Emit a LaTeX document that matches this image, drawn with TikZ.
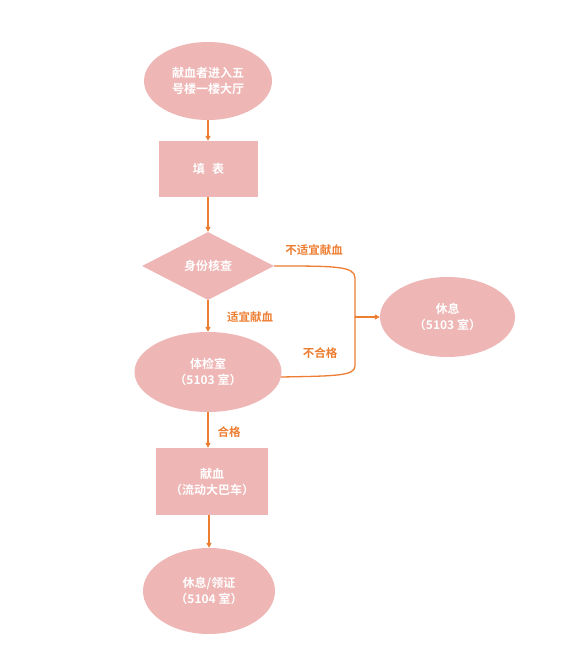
\documentclass[tikz,border=0pt]{standalone}
\usepackage{fontspec}
\newfontfamily\cjk{Noto Sans CJK SC Bold}
\usetikzlibrary{shapes.geometric,arrows.meta}
\definecolor{pinkfill}{HTML}{EEB6B5}
\definecolor{orng}{HTML}{ED7D31}
\tikzset{
  base/.style={fill=pinkfill,draw=none,text=white,font=\cjk\fontsize{12}{16}\selectfont,align=center,inner sep=0pt},
  oval/.style={base,ellipse},
  box/.style={base,rectangle},
  dia/.style={base,diamond,aspect=1.94},
  conn/.style={draw=orng,line width=1.3pt},
  arr/.style={conn,-{Triangle[length=5pt,width=5pt]}},
  lab/.style={text=orng,font=\cjk\fontsize{11.5}{13}\selectfont,inner sep=0pt}
}
\begin{document}
\begin{tikzpicture}[x=1pt,y=-1pt]
\useasboundingbox (0,0) rectangle (576,661);
\node[oval,minimum width=128pt,minimum height=78pt] (a) at (208,81) {献血者进入五\\号楼一楼大厅};
\node[box,minimum width=99pt,minimum height=56pt] (b) at (208.5,169) {填\hspace{0.6em}表};
\node[dia,minimum width=132pt,minimum height=68pt] (c) at (208,266) {身份核查};
\node[oval,minimum width=147pt,minimum height=80pt] (d) at (208,372) {体检室\\（5103 室）};
\node[box,minimum width=112pt,minimum height=67pt] (e) at (212,481.5) {献血\\（流动大巴车）};
\node[oval,minimum width=132pt,minimum height=86pt] (f) at (209,591) {休息/领证\\（5104 室）};
\node[oval,minimum width=135pt,minimum height=80pt] (r) at (447.5,317) {休息\\（5103 室）};
\coordinate (j) at (355,317);
\coordinate (dl) at (281,377);
\draw[arr] (a.south) -- (a.south |- b.north);
\draw[arr] (b.south -| c.north) -- (c.north);
\draw[arr] (c.south) -- (c.south |- d.north);
\draw[arr] (d.south) -- (d.south |- e.north);
\draw[arr] (e.south -| f.north) -- (f.north);
\draw[conn] (c.east) .. controls (335,266) and (355,266) .. (355,278) -- (355,366) .. controls (355,376) and (335,376) .. (dl);
\draw[arr] (j) -- (r.west);
\node[lab] (l1) at (314,250) {不适宜献血};
\node[lab] (l2) at (250,317) {适宜献血};
\node[lab] (l3) at (320,353) {不合格};
\node[lab] (l4) at (229,432) {合格};
\end{tikzpicture}
\end{document}
